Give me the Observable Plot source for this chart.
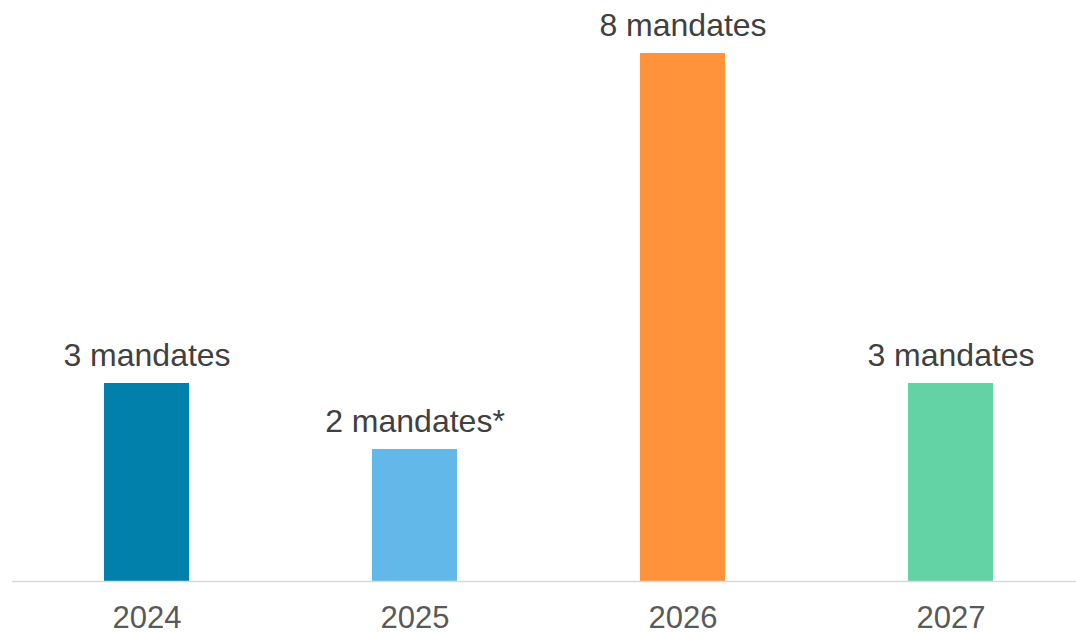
<!DOCTYPE html>
<html>
<head>
<meta charset="utf-8">
<script src="https://cdn.jsdelivr.net/npm/d3@7"></script>
<script src="https://cdn.jsdelivr.net/npm/@observablehq/plot@0.6"></script>
<style>
  html, body { margin: 0; padding: 0; background: #fff; }
  #chart svg { display: block; overflow: visible; }
</style>
</head>
<body>
<div id="chart"></div>
<script>
const years = ["2024", "2025", "2026", "2027"];
const mandates = [3, 2, 8, 3];
const labels = ["3 mandates", "2 mandates*", "8 mandates", "3 mandates"];
const colors = ["#0080AB", "#63B8EA", "#FF933B", "#63D3A6"];

const data = years.map((y, i) => ({year: y, value: mandates[i], label: labels[i]}));

const chart = Plot.plot({
  width: 1076,
  height: 633,
  marginTop: 53,
  marginBottom: 52,
  marginLeft: 12,
  marginRight: 0,
  style: {fontFamily: "'Liberation Sans', Arial, sans-serif", background: "#fff"},
  x: {domain: years, range: [11.5, 1084.5], paddingInner: 0.683, paddingOuter: 0.3415, label: null},
  y: {domain: [0, 8], axis: null},
  color: {domain: years, range: colors},
  marks: [
    Plot.barY(data, {x: "year", y: "value", fill: "year"}),
    Plot.ruleY([0], {stroke: "#D9D9D9", strokeWidth: 1.5}),
    Plot.text(data, {x: "year", y: "value", text: "label", lineAnchor: "bottom", dy: -18, fontSize: 32, fill: "#404040"}),
    Plot.axisX({tickSize: 0, tickPadding: 24, fontSize: 31, color: "#595959", label: null})
  ]
});
document.getElementById("chart").append(chart);
</script>
</body>
</html>
